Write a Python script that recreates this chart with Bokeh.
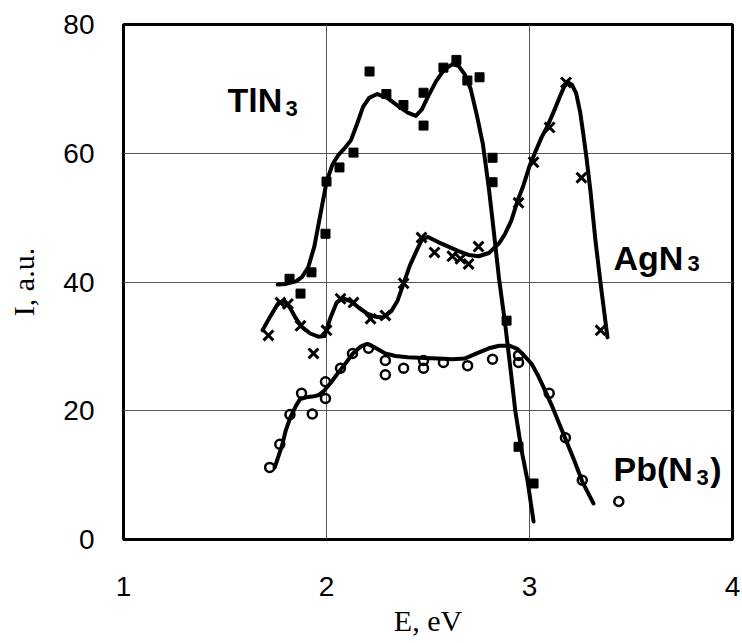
from bokeh.plotting import figure
from bokeh.models import Range1d, FixedTicker, Label
from bokeh.embed import file_html
from bokeh.resources import INLINE

# ---- data ----
tl_E = [1.818, 1.872, 1.926, 1.995, 2.0, 2.064, 2.133, 2.212, 2.295, 2.379, 2.478, 2.478,
        2.576, 2.640, 2.694, 2.754, 2.818, 2.818, 2.887, 2.946, 3.02]
tl_I = [40.5, 38.2, 41.5, 47.5, 55.6, 57.8, 60.1, 72.7, 69.2, 67.5, 69.4, 64.3,
        73.3, 74.5, 71.3, 71.8, 59.3, 55.5, 34.0, 14.4, 8.7]

tl_fit_E = [1.76, 1.80, 1.85, 1.88, 1.91, 1.94, 1.97, 2.00, 2.03, 2.06, 2.09, 2.12, 2.15,
            2.18, 2.21, 2.25, 2.30, 2.35, 2.40, 2.44, 2.47, 2.50, 2.54, 2.58, 2.62, 2.65,
            2.68, 2.71, 2.74, 2.77, 2.80, 2.82, 2.85, 2.88, 2.91, 2.93, 2.96, 2.99, 3.02]
tl_fit_I = [39.6, 39.7, 40.1, 40.8, 42.3, 45.5, 50.5, 55.5, 58.3, 59.8, 60.8, 62.0, 64.5,
            67.2, 68.6, 69.2, 68.6, 67.4, 66.3, 65.8, 66.8, 68.8, 71.2, 73.0, 73.8, 73.6,
            72.3, 70.0, 66.0, 61.5, 54.5, 49.0, 40.5, 33.5, 25.5, 20.0, 14.0, 9.2, 2.8]

ag_E = [1.714, 1.773, 1.81, 1.872, 1.936, 2.0, 2.069, 2.133, 2.217, 2.29, 2.38, 2.468,
        2.532, 2.62, 2.66, 2.70, 2.749, 2.946, 3.02, 3.099, 3.18, 3.256, 3.35]
ag_I = [31.7, 36.8, 36.6, 33.2, 28.9, 32.5, 37.4, 36.8, 34.3, 34.8, 39.8, 46.9,
        44.6, 44.0, 43.6, 42.8, 45.5, 52.3, 58.6, 64.0, 71.0, 56.2, 32.5]

ag_fit_E = [1.685, 1.72, 1.76, 1.79, 1.82, 1.85, 1.88, 1.92, 1.96, 1.99, 2.02, 2.05, 2.08,
            2.12, 2.16, 2.20, 2.24, 2.28, 2.32, 2.35, 2.38, 2.41, 2.44, 2.47, 2.50, 2.55,
            2.60, 2.65, 2.70, 2.75, 2.80, 2.85, 2.88, 2.91, 2.94, 2.97, 3.00, 3.03, 3.06,
            3.09, 3.12, 3.15, 3.17, 3.19, 3.21, 3.23, 3.25, 3.265, 3.28, 3.30, 3.325, 3.35, 3.384]
ag_fit_I = [32.5, 34.5, 36.6, 37.1, 36.0, 34.3, 33.0, 32.0, 31.5, 31.6, 34.5, 36.8, 37.5,
            37.0, 36.0, 35.1, 34.6, 34.5, 35.5, 37.1, 39.8, 42.5, 44.6, 46.6, 47.0, 46.2,
            45.5, 44.8, 44.2, 44.0, 44.5, 46.0, 47.5, 49.5, 52.5, 55.0, 58.0, 60.3, 62.5,
            64.3, 66.5, 68.8, 70.3, 71.0, 70.6, 69.3, 66.3, 63.0, 59.5, 54.2, 46.4, 39.8, 31.4]

pb_E = [1.72, 1.77, 1.82, 1.877, 1.93, 1.995, 1.995, 2.069, 2.128, 2.207, 2.29, 2.29,
        2.38, 2.478, 2.478, 2.576, 2.695, 2.818, 2.946, 2.946, 3.097, 3.177, 3.26, 3.44]
pb_I = [11.2, 14.8, 19.4, 22.7, 19.5, 21.9, 24.5, 26.6, 28.9, 29.7, 27.8, 25.6,
        26.6, 27.8, 26.6, 27.5, 27.0, 28.0, 28.6, 27.5, 22.7, 15.8, 9.2, 5.9]

pb_fit_E = [1.745, 1.78, 1.80, 1.82, 1.85, 1.87, 1.90, 1.93, 1.96, 1.985, 2.02, 2.05, 2.09,
            2.13, 2.17, 2.20, 2.24, 2.29, 2.34, 2.40, 2.48, 2.55, 2.62, 2.68, 2.74, 2.80,
            2.85, 2.90, 2.94, 2.97, 3.01, 3.04, 3.07, 3.11, 3.14, 3.18, 3.22, 3.26, 3.315]
pb_fit_I = [11.2, 14.5, 17.0, 18.8, 20.8, 21.8, 22.1, 22.2, 22.4, 23.0, 24.3, 25.6, 27.2,
            28.9, 30.0, 30.4, 29.8, 28.9, 28.5, 28.3, 28.2, 28.1, 28.0, 28.1, 28.9, 29.7,
            30.1, 30.1, 29.6, 28.7, 27.3, 25.6, 23.6, 20.8, 18.5, 15.4, 12.3, 9.0, 5.6]

x_ticks = [1, 2, 3, 4]
y_ticks = [0, 20, 40, 60, 80]
x_title = "E, eV"
y_title = "I, a.u."

p = figure(width=742, height=643, output_backend="svg", toolbar_location=None,
           x_range=Range1d(1, 4), y_range=Range1d(0, 80),
           min_border_left=123, min_border_right=10, min_border_top=24, min_border_bottom=104)
p.background_fill_color = "white"
p.border_fill_color = "white"
p.outline_line_color = "black"
p.outline_line_width = 3

for ax in (p.xaxis[0], p.yaxis[0]):
    ax.axis_line_color = None
    ax.major_tick_line_color = None
    ax.minor_tick_line_color = None
    ax.major_label_text_font = "Liberation Sans"
    ax.major_label_text_font_size = "28px"
    ax.major_label_text_color = "black"
    ax.axis_label_text_font = "Liberation Serif"
    ax.axis_label_text_font_size = "30px"
    ax.axis_label_text_font_style = "normal"
    ax.axis_label_text_color = "black"
p.xaxis[0].ticker = FixedTicker(ticks=x_ticks)
p.yaxis[0].ticker = FixedTicker(ticks=y_ticks)
p.xaxis[0].major_label_standoff = 31
p.yaxis[0].major_label_standoff = 23
p.xaxis[0].axis_label = x_title
p.yaxis[0].axis_label = y_title
p.xaxis[0].axis_label_standoff = 5
p.yaxis[0].axis_label_standoff = 20

p.xgrid[0].ticker = FixedTicker(ticks=x_ticks)
p.ygrid[0].ticker = FixedTicker(ticks=y_ticks)
for g in (p.xgrid[0], p.ygrid[0]):
    g.grid_line_color = "#555555"
    g.grid_line_width = 1

# markers
p.scatter(tl_E, tl_I, marker="square", size=9, color="black")
p.scatter(ag_E, ag_I, marker="x", size=14, line_color="black", line_width=3)
p.scatter(pb_E, pb_I, marker="circle", size=9, fill_color=None, line_color="black", line_width=2.5)

# fitted curves
for xs, ys in ((tl_fit_E, tl_fit_I), (ag_fit_E, ag_fit_I), (pb_fit_E, pb_fit_I)):
    p.line(xs, ys, line_color="black", line_width=4, line_join="round", line_cap="round")

# series labels
def lab(x, y, t, size):
    p.add_layout(Label(x=x, y=y, text=t, text_font="Liberation Sans", text_font_size=size,
                       text_font_style="bold", text_color="black", text_baseline="alphabetic",
                       text_align="left"))

lab(1.512, 68.2, "TlN", "34px")
lab(1.798, 67.0, "3", "22px")
lab(3.414, 43.8, "AgN", "34px")
lab(3.778, 42.9, "3", "22px")
lab(3.414, 11.0, "Pb(N", "34px")
lab(3.823, 9.6, "3", "22px")
lab(3.89, 11.0, ")", "34px")

open("out.html", "w").write(file_html(p, INLINE))
